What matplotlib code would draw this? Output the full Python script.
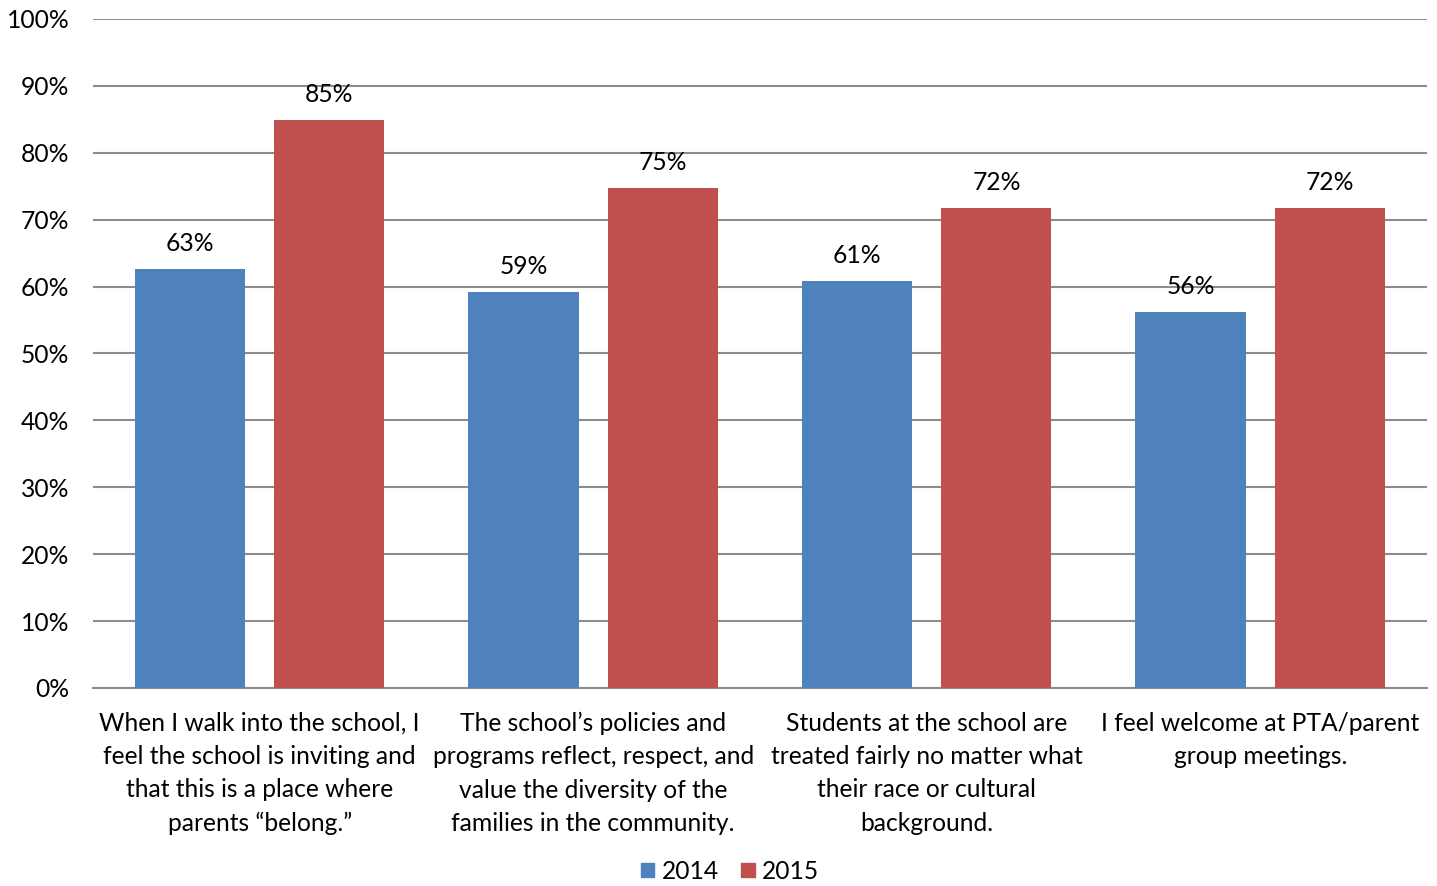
import numpy as np
import matplotlib
matplotlib.use("Agg")
import matplotlib.pyplot as plt
from matplotlib.patches import Patch

# ----------------- Data -----------------
categories = [
    "When I walk into the school, I\nfeel the school is inviting and\nthat this is a place where\nparents \u201cbelong.\u201d",
    "The school\u2019s policies and\nprograms reflect, respect, and\nvalue the diversity of the\nfamilies in the community.",
    "Students at the school are\ntreated fairly no matter what\ntheir race or cultural\nbackground.",
    "I feel welcome at PTA/parent\ngroup meetings.",
]
values_2014 = [62.6, 59.2, 60.8, 56.2]
values_2015 = [84.9, 74.7, 71.7, 71.7]
labels_2014 = ["63%", "59%", "61%", "56%"]
labels_2015 = ["85%", "75%", "72%", "72%"]
series_names = ["2014", "2015"]
yticks = list(range(0, 101, 10))

BLUE = "#4F81BD"
RED = "#C0504D"
GRID = "#8C8C8C"

plt.rcParams["font.family"] = ["Lato", "DejaVu Sans"]
FS = 17.7

fig = plt.figure(figsize=(14.37, 8.86), dpi=100)
ax = fig.add_axes([0.0647, 0.2235, 0.9283, 0.7551])

x = np.arange(len(categories))
width = 0.33
offset = 0.209
ax.bar(x - offset, values_2014, width, color=BLUE, zorder=3)
ax.bar(x + offset, values_2015, width, color=RED, zorder=3)

# data labels
for xi, v, lab in zip(x - offset, values_2014, labels_2014):
    ax.annotate(lab, (xi, v), xytext=(0, 10), textcoords="offset points",
                ha="center", va="bottom", fontsize=FS)
for xi, v, lab in zip(x + offset, values_2015, labels_2015):
    ax.annotate(lab, (xi, v), xytext=(0, 10), textcoords="offset points",
                ha="center", va="bottom", fontsize=FS)

ax.set_xlim(-0.5, len(categories) - 0.5)
ax.set_ylim(0, 100)
ax.set_yticks(yticks)
ax.set_yticklabels([f"{t}%" for t in yticks], fontsize=FS)
ax.set_xticks(x)
ax.set_xticklabels(categories, fontsize=FS, linespacing=1.55, va="top")
ax.tick_params(axis="both", length=0)
ax.tick_params(axis="y", pad=17)
ax.tick_params(axis="x", pad=17)

ax.yaxis.grid(True, color=GRID, linewidth=1.5, zorder=0)
for s in ["left", "right", "top"]:
    ax.spines[s].set_visible(False)
ax.spines["bottom"].set_color(GRID)
ax.spines["bottom"].set_linewidth(1.5)

handles = [Patch(color=BLUE, label=series_names[0]),
           Patch(color=RED, label=series_names[1])]
fig.legend(handles=handles, loc="lower center", ncol=2, frameon=False,
           fontsize=FS, bbox_to_anchor=(0.508, -0.013), borderpad=0.1,
           handlelength=0.55, handleheight=0.55, handletextpad=0.3,
           columnspacing=0.9)

fig.savefig("out.png", dpi=100)
